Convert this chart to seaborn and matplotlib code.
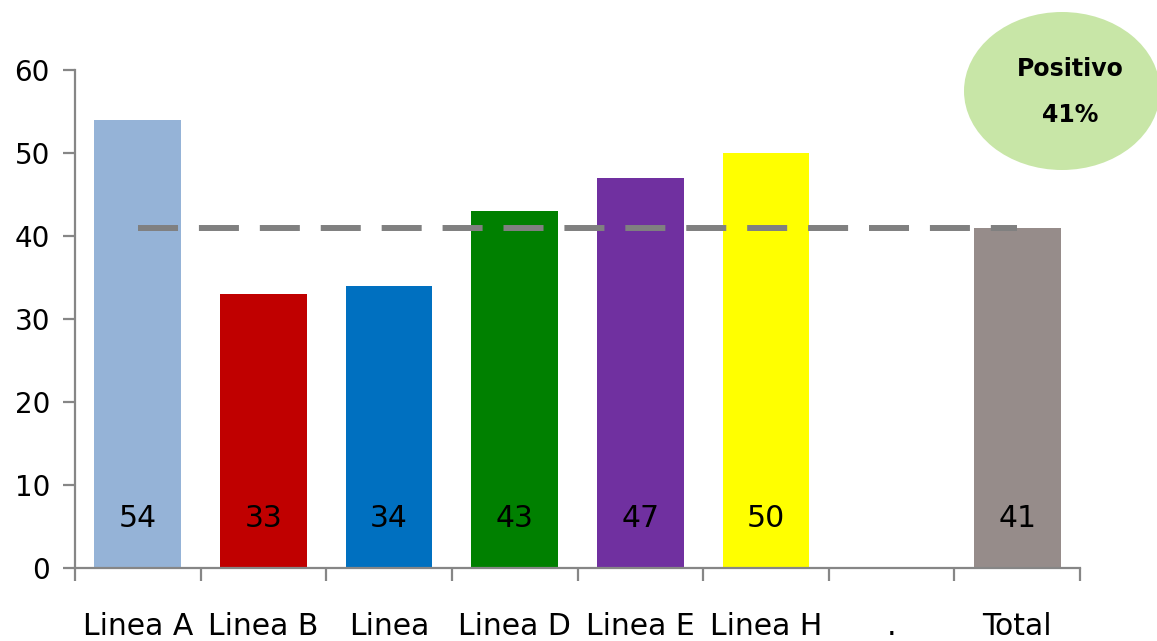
import numpy as np
import pandas as pd
import matplotlib
matplotlib.use("Agg")
import matplotlib.pyplot as plt
from matplotlib.patches import Ellipse
import seaborn as sns

# Chart data
categories = ["Linea A", "Linea B", "Linea", "Linea D", "Linea E", "Linea H", ".", "Total"]
values = [54, 33, 34, 43, 47, 50, np.nan, 41]
bar_colors = ["#95B3D7", "#C00000", "#0070C0", "#008000", "#7030A0", "#FFFF00", "#FFFFFF", "#968C8A"]
y_ticks = [0, 10, 20, 30, 40, 50, 60]
badge_title = "Positivo"
badge_value = "41%"

sns.set_theme(style="ticks")
plt.rcParams["font.family"] = ["DejaVu Sans"]
plt.rcParams["text.color"] = "black"
plt.rcParams["xtick.color"] = "black"
plt.rcParams["ytick.color"] = "black"

df = pd.DataFrame({"categoria": categories, "valor": values})

W, H = 1157, 641
fig = plt.figure(figsize=(W / 100, H / 100), dpi=100)
ax = fig.add_axes([75 / W, 1 - 568 / H, (1080 - 75) / W, (568 - 70) / H])

sns.barplot(
    data=df, x="categoria", y="valor", hue="categoria", order=categories,
    hue_order=categories, palette=dict(zip(categories, bar_colors)),
    width=0.69, saturation=1, errorbar=None, legend=False, ax=ax, zorder=2,
    linewidth=0,
)

# value labels near the base of each bar
for i, v in enumerate(values):
    if not np.isnan(v):
        ax.text(i, 6, f"{v:.0f}", ha="center", va="center", fontsize=21.5,
                color="black", zorder=4)

# reference line at the total value
total = values[-1]
ax.plot([0, len(categories) - 1], [total, total], color="#808080", lw=4.3,
        dashes=(6.7, 3.5), solid_capstyle="butt", dash_capstyle="butt", zorder=3)

ax.set_xlim(-0.5, len(categories) - 0.5)
ax.set_ylim(0, 60)
ax.set_yticks(y_ticks)
ax.set_xticks(np.arange(-0.5, len(categories)), labels=[""] * (len(categories) + 1))
ax.set_xticks(np.arange(len(categories)), labels=categories, minor=True)
ax.set_xlabel("")
ax.set_ylabel("")

spine_col = "#868686"
ax.tick_params(axis="x", which="major", bottom=True, length=9, width=1.6,
               color=spine_col, direction="out")
ax.tick_params(axis="x", which="minor", bottom=True, length=0, pad=32, labelsize=21.5)
ax.tick_params(axis="y", left=True, length=9, width=1.6, color=spine_col,
               direction="out", labelsize=20, pad=9)
for side in ("top", "right"):
    ax.spines[side].set_visible(False)
for side in ("left", "bottom"):
    ax.spines[side].set_color(spine_col)
    ax.spines[side].set_linewidth(1.6)

# badge in the upper right corner
fig.add_artist(Ellipse((1062 / W, 1 - 91 / H), width=196 / W, height=158 / H,
                       transform=fig.transFigure, facecolor="#C8E6A7",
                       edgecolor="none"))
fig.text(1070 / W, 1 - 69 / H, badge_title, ha="center", va="center",
         fontsize=17, fontweight="bold")
fig.text(1070 / W, 1 - 115 / H, badge_value, ha="center", va="center",
         fontsize=17, fontweight="bold")

fig.savefig("out.png", dpi=100)
